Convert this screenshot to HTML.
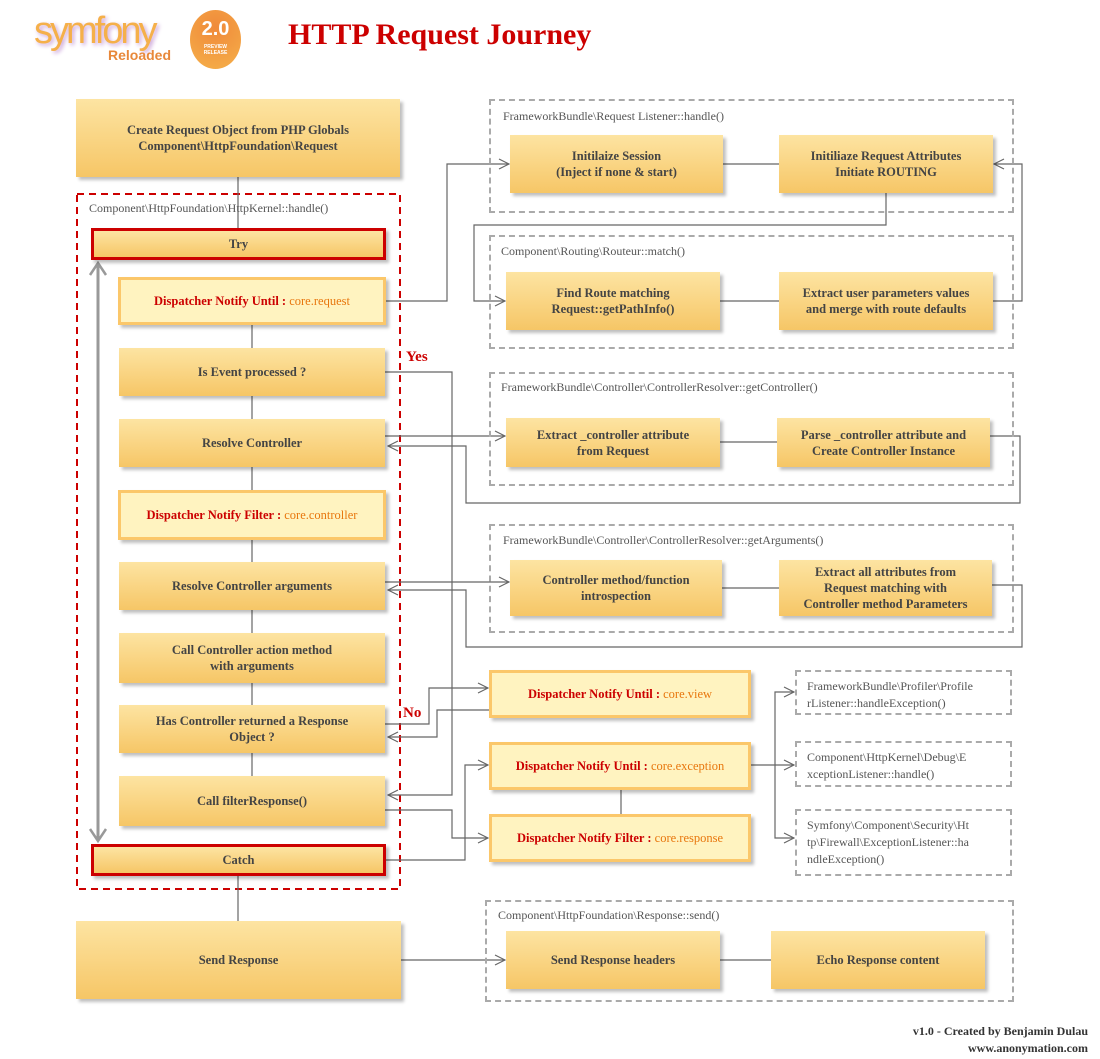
<!DOCTYPE html>
<html><head><meta charset="utf-8"><style>
body{margin:0;width:1100px;height:1059px;background:#fff;position:relative;overflow:hidden;font-family:"Liberation Serif",serif;}
.b{position:absolute;background:linear-gradient(#fde4a2,#f6c666);box-shadow:3px 3px 3px rgba(0,0,0,.25);display:flex;align-items:center;justify-content:center;text-align:center;font-weight:bold;font-size:12.5px;color:#444;line-height:16px;box-sizing:border-box;}
.h{background:#fff3c0;border:3px solid #fbc76a;color:#c00;}
.h span{color:#e8770e;font-weight:normal;}
.r{border:3px solid #c00;}
.g{position:absolute;border:2px dashed #aaa;box-sizing:border-box;}
.l{position:absolute;font-size:12px;color:#555;}
.s{position:absolute;border:2px dashed #aaa;box-sizing:border-box;font-size:12px;color:#555;padding:6px 10px;line-height:17px;}
</style></head><body>
<div style="position:absolute;left:34px;top:10px;font:38px 'Liberation Sans',sans-serif;color:#f5b04a;letter-spacing:-3px;text-shadow:2px 2px 4px #c9a0d8">symfony</div>
<div style="position:absolute;left:108px;top:47px;font:bold 14px 'Liberation Sans',sans-serif;color:#e8883a">Reloaded</div>
<div style="position:absolute;left:190px;top:10px;width:51px;height:59px;border-radius:50%;background:radial-gradient(circle at 50% 30%,#f08a3a,#f5b04a);color:#fff;text-align:center;font:bold 20px 'Liberation Sans',sans-serif;line-height:30px;padding-top:4px;box-sizing:border-box">2.0<div style="font-size:5px;line-height:6px">PREVIEW<br>RELEASE</div></div>
<div style="position:absolute;left:288px;top:18px;font-size:30px;font-weight:bold;color:#c00">HTTP Request Journey</div>

<svg width="1100" height="1059" style="position:absolute;left:0;top:0" fill="none" stroke="#666" stroke-width="1.2">
<defs><marker id="a" markerWidth="12" markerHeight="12" refX="11" refY="6" orient="auto" markerUnits="userSpaceOnUse"><path d="M1,1 L11,6 L1,11" stroke="#666" fill="none"/></marker></defs>
<rect x="77" y="194" width="323" height="695" stroke="#c00" stroke-width="2" stroke-dasharray="7,5"/>
<path d="M238,177V228M252,325V348M252,396V419M252,467V490M252,540V562M252,610V633M252,683V705M252,753V776M238,876V921"/>
<path d="M98,264V840" stroke="#999" stroke-width="3"/>
<path d="M90,275L98,263L106,275M90,829L98,841L106,829" stroke="#999" stroke-width="2.5"/>
<path d="M386,301H447V164H509" marker-end="url(#a)"/>
<path d="M723,164H779M720,301H779M720,442H777M722,588H779M621,790V814M720,960H771"/>
<path d="M886,193V225H474V301H505" marker-end="url(#a)"/>
<path d="M993,301H1022V164H994" marker-end="url(#a)"/>
<path d="M385,372H452V795H388" marker-end="url(#a)"/>
<path d="M385,436H505" marker-end="url(#a)"/>
<path d="M990,436H1020V503H466V446H388" marker-end="url(#a)"/>
<path d="M385,582H509" marker-end="url(#a)"/>
<path d="M992,585H1022V647H466V590H388" marker-end="url(#a)"/>
<path d="M385,724H429V688H488" marker-end="url(#a)"/>
<path d="M489,710H437V737H388" marker-end="url(#a)"/>
<path d="M385,810H452V838H488" marker-end="url(#a)"/>
<path d="M385,860H465V765H488" marker-end="url(#a)"/>
<path d="M751,765H775V692H794" marker-end="url(#a)"/>
<path d="M775,765H794" marker-end="url(#a)"/>
<path d="M775,765V838H794" marker-end="url(#a)"/>
<path d="M401,960H505" marker-end="url(#a)"/>
</svg>

<div class="b" style="left:76px;top:99px;width:324px;height:78px">Create Request Object from PHP Globals<br>Component\HttpFoundation\Request</div>
<div class="l" style="left:89px;top:201px">Component\HttpFoundation\HttpKernel::handle()</div>
<div class="b r" style="left:91px;top:228px;width:295px;height:32px">Try</div>
<div class="b h" style="left:118px;top:277px;width:268px;height:48px">Dispatcher Notify Until :&nbsp;<span>core.request</span></div>
<div class="b" style="left:119px;top:348px;width:266px;height:48px">Is Event processed ?</div>
<div class="b" style="left:119px;top:419px;width:266px;height:48px">Resolve Controller</div>
<div class="b h" style="left:118px;top:490px;width:268px;height:50px">Dispatcher Notify Filter :&nbsp;<span>core.controller</span></div>
<div class="b" style="left:119px;top:562px;width:266px;height:48px">Resolve Controller arguments</div>
<div class="b" style="left:119px;top:633px;width:266px;height:50px">Call Controller action method<br>with arguments</div>
<div class="b" style="left:119px;top:705px;width:266px;height:48px">Has Controller returned a Response<br>Object ?</div>
<div class="b" style="left:119px;top:776px;width:266px;height:50px">Call filterResponse()</div>
<div class="b r" style="left:91px;top:844px;width:295px;height:32px">Catch</div>
<div class="b" style="left:76px;top:921px;width:325px;height:78px">Send Response</div>
<div style="position:absolute;left:406px;top:349px;font-size:15px;font-weight:bold;color:#c00">Yes</div>
<div style="position:absolute;left:403px;top:705px;font-size:15px;font-weight:bold;color:#c00">No</div>

<div class="g" style="left:489px;top:99px;width:525px;height:114px"></div>
<div class="l" style="left:503px;top:109px">FrameworkBundle\Request Listener::handle()</div>
<div class="b" style="left:510px;top:135px;width:213px;height:58px">Initilaize Session<br>(Inject if none &amp; start)</div>
<div class="b" style="left:779px;top:135px;width:214px;height:58px">Initiliaze Request Attributes<br>Initiate ROUTING</div>

<div class="g" style="left:489px;top:235px;width:525px;height:114px"></div>
<div class="l" style="left:501px;top:244px">Component\Routing\Routeur::match()</div>
<div class="b" style="left:506px;top:272px;width:214px;height:58px">Find Route matching<br>Request::getPathInfo()</div>
<div class="b" style="left:779px;top:272px;width:214px;height:58px">Extract user parameters values<br>and merge with route defaults</div>

<div class="g" style="left:489px;top:372px;width:525px;height:114px"></div>
<div class="l" style="left:501px;top:380px">FrameworkBundle\Controller\ControllerResolver::getController()</div>
<div class="b" style="left:506px;top:418px;width:214px;height:49px">Extract _controller attribute<br>from Request</div>
<div class="b" style="left:777px;top:418px;width:213px;height:49px">Parse _controller attribute and<br>Create Controller Instance</div>

<div class="g" style="left:489px;top:524px;width:525px;height:109px"></div>
<div class="l" style="left:503px;top:533px">FrameworkBundle\Controller\ControllerResolver::getArguments()</div>
<div class="b" style="left:510px;top:560px;width:212px;height:56px">Controller method/function<br>introspection</div>
<div class="b" style="left:779px;top:560px;width:213px;height:56px">Extract all attributes from<br>Request matching with<br>Controller method Parameters</div>

<div class="b h" style="left:489px;top:670px;width:262px;height:48px">Dispatcher Notify Until :&nbsp;<span>core.view</span></div>
<div class="b h" style="left:489px;top:742px;width:262px;height:48px">Dispatcher Notify Until :&nbsp;<span>core.exception</span></div>
<div class="b h" style="left:489px;top:814px;width:262px;height:48px">Dispatcher Notify Filter :&nbsp;<span>core.response</span></div>

<div class="s" style="left:795px;top:670px;width:217px;height:45px">FrameworkBundle\Profiler\Profile<br>rListener::handleException()</div>
<div class="s" style="left:795px;top:741px;width:217px;height:46px">Component\HttpKernel\Debug\E<br>xceptionListener::handle()</div>
<div class="s" style="left:795px;top:809px;width:217px;height:67px">Symfony\Component\Security\Ht<br>tp\Firewall\ExceptionListener::ha<br>ndleException()</div>

<div class="g" style="left:485px;top:900px;width:529px;height:102px"></div>
<div class="l" style="left:498px;top:908px">Component\HttpFoundation\Response::send()</div>
<div class="b" style="left:506px;top:931px;width:214px;height:58px">Send Response headers</div>
<div class="b" style="left:771px;top:931px;width:214px;height:58px">Echo Response content</div>

<div style="position:absolute;right:12px;top:1023px;font-size:12px;font-weight:bold;color:#333;text-align:right;line-height:17px">v1.0 - Created by Benjamin Dulau<br>www.anonymation.com</div>
</body></html>
